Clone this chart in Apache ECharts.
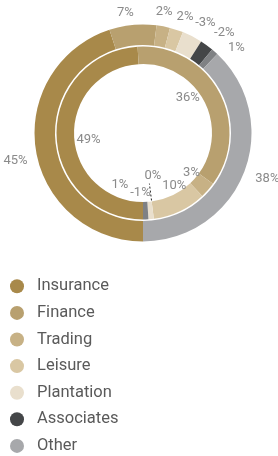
<!DOCTYPE html>
<html><head><meta charset="utf-8">
<script src="https://cdn.jsdelivr.net/npm/echarts@6/dist/echarts.min.js"></script>
<style>html,body{margin:0;padding:0;background:#fff}#c{width:278px;height:456px}</style>
</head><body><div id="c"></div>
<script>
// Legend categories
const categories = ['Insurance','Finance','Trading','Leisure','Plantation','Associates','Other'];
// Outer ring (clockwise from 6 o'clock)
const outerNames  = ['Insurance','Finance','Trading','Leisure','Plantation','Associates','Adjustments','Other'];
const outerValues = [45, 7, 2, 2, -3, -2, 1, 38];
// Inner ring (clockwise from 6 o'clock)
const innerNames  = ['Insurance','Finance','Trading','Leisure','Associates','Plantation','Adjustments'];
const innerValues = [49, 36, 3, 10, 0, -1, 1];

const colors = {
  Insurance:'#a8894a', Finance:'#b8a06f', Trading:'#c7b185', Leisure:'#d9c7a3',
  Plantation:'#e9dfcd', Associates:'#444648', Adjustments:'#7f8184', Other:'#a7a8ab'
};
const FONT = 'Roboto, "DejaVu Sans", sans-serif';
const LABEL_COLOR = '#8a8a8a';
const pct = v => v + '%';

function ringData(names, values){
  return names.map((n,i)=>({name:n, value:Math.abs(values[i]), itemStyle:{color:colors[n]}}));
}
// label nudges (style only), keyed by index
const outerNudge = {0:[-6,9], 1:[-6,2], 2:[-2,0], 3:[4,1], 4:[6.5,-0.5], 5:[9,-1], 6:[12,7.5], 7:[10,0]};
const innerNudge = {0:[3.5,5], 1:[-6,-7], 2:[5,1], 3:[6.5,0.5], 4:[-10,-8], 5:[-8,2], 6:[-25,-6]};

const transparent = 'rgba(0,0,0,0)';
const outerLabelData = outerNames.map((n,i)=>({name:n, value:Math.abs(outerValues[i]), itemStyle:{color:transparent}}));
const innerLabelData = innerNames.map((n,i)=>{
  const d = {name:n, value:Math.abs(innerValues[i]), itemStyle:{color:transparent}};
  if (innerValues[i] === 0) {
    d.label = {position:'outside'};
    d.labelLine = {show:true, length:-17, length2:0, smooth:false,
      lineStyle:{type:[2,2], color:'#222', width:1}};
  }
  return d;
});

const labelStyle = {fontFamily:FONT, fontSize:13, color:LABEL_COLOR};
const nudger = map => p => { const n = map[p.dataIndex]; return n ? {dx:n[0], dy:n[1]} : {}; };

const chart = echarts.init(document.getElementById('c'), null, {renderer:'canvas'});
chart.setOption({
  animation:false,
  legend:{
    orient:'vertical', left:10, top:277.8, padding:0, icon:'circle', itemWidth:14, itemHeight:14, itemGap:9.6,
    selectedMode:false, data:categories,
    textStyle:{fontFamily:FONT, fontSize:16.5, color:'#5a5a5a', padding:[0,0,0,8]}
  },
  series:[
    {
      type:'pie', name:'outer', center:[143,133], radius:[88,108.5], startAngle:270, clockwise:true,
      silent:true, data: ringData(outerNames, outerValues),
      label:{show:false}, labelLine:{show:false}
    },
    {
      type:'pie', name:'inner', center:[143,133], radius:[69,86.5], startAngle:270, clockwise:true,
      silent:true, data: ringData(innerNames, innerValues),
      label:{show:false}, labelLine:{show:false}
    },
    {
      type:'pie', name:'outerLabels', center:[143,133], radius:[112,128], startAngle:270, clockwise:true,
      silent:true, avoidLabelOverlap:false, legendHoverLink:false,
      data: outerLabelData,
      label:Object.assign({show:true, position:'inside', formatter:p=>pct(outerValues[p.dataIndex])}, labelStyle),
      labelLine:{show:false},
      labelLayout: nudger(outerNudge)
    },
    {
      type:'pie', name:'innerLabels', center:[143,133], radius:[42,68], startAngle:270, clockwise:true,
      silent:true, avoidLabelOverlap:false, legendHoverLink:false, z:5,
      data: innerLabelData,
      label:Object.assign({show:true, position:'inside', formatter:p=>pct(innerValues[p.dataIndex])}, labelStyle),
      labelLine:{show:false},
      labelLayout: nudger(innerNudge)
    }
  ]
});
</script></body></html>
